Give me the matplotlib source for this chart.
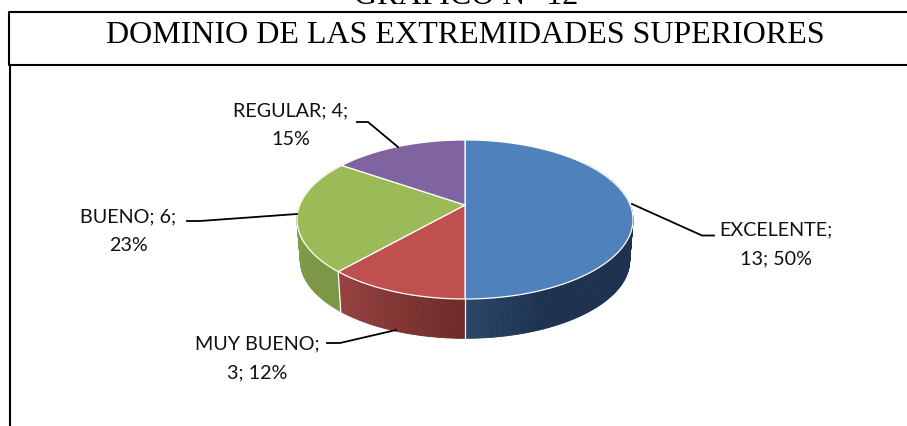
import numpy as np
import matplotlib
matplotlib.use("Agg")
import matplotlib.pyplot as plt

# Data
categories = ["EXCELENTE", "MUY BUENO", "BUENO", "REGULAR"]
values = [13, 3, 6, 4]
percents = [50, 12, 23, 15]
heading = "GRÁFICO N° 12"
title = "DOMINIO DE LAS EXTREMIDADES SUPERIORES"

# Style
top_colors = ["#4F81BD", "#C0504D", "#9BBB59", "#8064A2"]
side_start = ["#1E324E", "#6E2A28", "#7A9646", "#8064A2"]
side_end = ["#2A4668", "#964240", "#86A24E", "#8064A2"]
label_formats = ["{c};\n{v}; {p}%", "{c};\n{v}; {p}%", "{c}; {v};\n{p}%", "{c}; {v};\n{p}%"]
label_pos = [(776, 244), (257, 358.5), (128, 231), (291, 125.5)]
leaders = [
    [(632, 205), (702, 236.5), (714, 236.5)],
    [(327, 344), (340, 344), (396, 331)],
    [(187, 222), (200, 222), (297, 215)],
    [(357, 123), (368, 123), (398, 148)],
]

fig = plt.figure(figsize=(9.07, 4.27), dpi=100)
ax = fig.add_axes([0, 0, 1, 1])
ax.set_xlim(0, 907)
ax.set_ylim(427, 0)
ax.axis("off")

# Pie seen in perspective, angles run clockwise from the top
CX, CY = 465, 206
A, B, K = 165.2, 76.9, 0.182
DEPTH_CY, SHRINK = 247.2, 0.98


def project(theta, cy=CY, scale=1.0):
    w = 1 + K * np.cos(theta)
    return CX + scale * A * np.sin(theta) / w, cy - scale * B * np.cos(theta) / w


fractions = np.array(values) / sum(values)
edges = np.concatenate([[0], np.cumsum(fractions)]) * 2 * np.pi


def hex_rgb(h):
    return np.array(matplotlib.colors.to_rgb(h))


# Side walls, one thin strip at a time for the shading
for i in range(len(values)):
    a0, a1 = edges[i], edges[i + 1]
    steps = np.linspace(a0, a1, max(int((a1 - a0) * 90), 2))
    for t0, t1 in zip(steps[:-1], steps[1:]):
        if np.cos(t0) > 0.6 and np.cos(t1) > 0.6:
            continue
        if i == 0:
            mix = max(0, 1 - abs(np.sin(t0)) / 0.4)
        else:
            mix = (t0 - a0) / (a1 - a0)
        col = hex_rgb(side_start[i]) * (1 - mix) + hex_rgb(side_end[i]) * mix
        xa, ya = project(np.array([t0, t1]))
        xb, yb = project(np.array([t1, t0]), DEPTH_CY, SHRINK)
        ax.fill(np.r_[xa, xb], np.r_[ya, yb], color=col, lw=0.6, zorder=2)

# White seams on the visible wall
for i in [1, 2]:
    xa, ya = project(edges[i])
    xb, yb = project(edges[i], DEPTH_CY, SHRINK)
    ax.plot([xa, xb], [ya, yb], color="white", lw=0.9, zorder=3)

# Top faces
for i in range(len(values)):
    t = np.linspace(edges[i], edges[i + 1], 120)
    x, y = project(t)
    ax.fill(np.r_[CX, x], np.r_[CY, y], facecolor=top_colors[i], edgecolor="white",
            lw=0.9, joinstyle="round", zorder=4)

# Labels and leader lines
for i, c in enumerate(categories):
    txt = label_formats[i].format(c=c, v=values[i], p=percents[i])
    ax.text(label_pos[i][0], label_pos[i][1], txt, family="Lato", fontsize=14.2, color="#111111",
            ha="center", va="center", linespacing=1.85, multialignment="center", zorder=6)
    pts = np.array(leaders[i])
    ax.plot(pts[:, 0], pts[:, 1], color="black", lw=1.3, zorder=5)

# Heading and title box
ax.text(466, 4, heading, family="Liberation Serif", fontsize=23, ha="center", va="baseline")
ax.text(465, 43, title, family="Liberation Serif", fontsize=23, ha="center", va="baseline")
ax.plot([907, 8.5, 8.5, 907], [13, 13, 66, 66], color="black", lw=1.5)
ax.plot([10, 10], [66, 427], color="black", lw=1.5)

plt.savefig("out.png", dpi=100)
